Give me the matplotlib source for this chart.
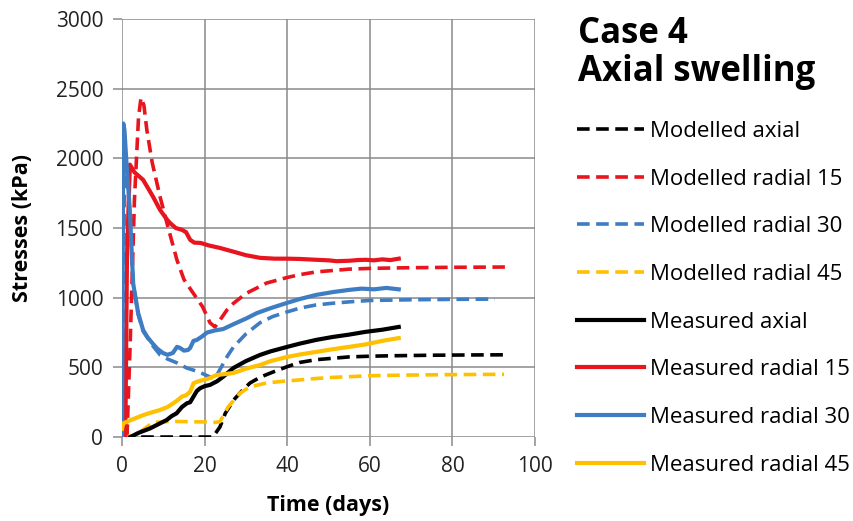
import matplotlib.pyplot as plt

# Modelled series (dashed)
mod_axial_t = [0, 5, 10, 15, 20, 22, 23.7, 25, 27, 29, 31, 33.5, 36.6, 40, 43, 47, 51, 55, 60, 65, 70, 75, 80, 85, 92.5]
mod_axial_s = [0, 0, 0, 0, 0, 0, 72, 170, 265, 330, 388, 430, 467, 505, 535, 555, 565, 575, 580, 583, 585, 587, 588, 589, 590]

mod_r15_t = [1.2, 2, 3, 4, 4.6, 5.3, 6, 7.3, 9.2, 11.1, 13.3, 15, 17.2, 19.5, 21.3, 22.5, 23.5, 25.4, 27, 30, 35, 40, 43, 47, 51, 55, 60, 65, 70, 80, 92.7]
mod_r15_s = [0, 700, 1700, 2300, 2435, 2380, 2205, 1970, 1725, 1510, 1270, 1130, 1034, 935, 820, 790, 830, 912, 960, 1030, 1105, 1145, 1165, 1185, 1195, 1205, 1210, 1213, 1215, 1218, 1220]

mod_r30_t = [0.3, 0.6, 1, 1.5, 1.9, 2.7, 3.9, 5.1, 7.3, 9.2, 11, 13.3, 15.7, 17.2, 19.5, 21.3, 22.5, 24, 25.5, 27, 30, 33.4, 36.5, 40, 43, 47, 51, 55, 60, 70, 80, 90.3]
mod_r30_s = [0, 2100, 1950, 1780, 1600, 1100, 880, 760, 660, 590, 560, 532, 495, 481, 455, 431, 420, 500, 580, 647, 740, 820, 865, 898, 925, 948, 960, 970, 980, 985, 988, 990]

mod_r45_t = [0, 3, 5, 7.5, 12, 16, 20, 22, 23.7, 25.7, 28.6, 31, 35, 39, 43, 47, 51, 55, 60, 70, 80, 92.5]
mod_r45_s = [0, 10, 50, 105, 112, 110, 108, 103, 110, 216, 316, 360, 388, 400, 410, 420, 428, 433, 440, 445, 448, 450]

# Measured series (solid)
mea_axial_t = [2, 4, 6.8, 9, 10.8, 12, 13.2, 14.5, 15.7, 16.5, 17.3, 18.1, 18.9, 20, 21.3, 23, 24.5, 27, 30, 33.4, 36, 40, 43, 47, 51, 55, 59, 63, 67]
mea_axial_s = [0, 30, 62, 95, 122, 150, 170, 215, 242, 250, 290, 330, 350, 365, 374, 400, 433, 496, 545, 589, 615, 647, 670, 697, 718, 735, 755, 770, 790]

mea_r15_t = [0.8, 1.2, 1.9, 3, 5.1, 7.5, 9.2, 10.9, 11.6, 13, 14.5, 15.5, 16.5, 17.5, 19, 21, 23.7, 27, 30, 33.4, 37, 40, 43, 47, 50, 52, 55, 57, 59, 61, 63, 65, 67]
mea_r15_s = [0, 1300, 1955, 1900, 1846, 1725, 1630, 1560, 1537, 1500, 1487, 1470, 1415, 1395, 1393, 1375, 1357, 1330, 1305, 1286, 1280, 1280, 1278, 1272, 1268, 1262, 1265, 1270, 1272, 1268, 1275, 1270, 1280]

mea_r30_t = [0, 0.3, 0.6, 1, 1.5, 1.9, 2.7, 3.9, 5.1, 6.2, 7.3, 8.5, 9.9, 11, 12.3, 13.3, 14, 15, 16, 16.5, 17.3, 18.1, 19.3, 20.6, 22.5, 24.5, 27, 30, 32.7, 36, 40, 43, 47, 51, 55, 58, 61, 64, 67]
mea_r30_s = [0, 2250, 2200, 2000, 1800, 1610, 1100, 890, 768, 715, 675, 635, 603, 590, 603, 647, 640, 620, 625, 640, 690, 697, 720, 750, 765, 775, 810, 850, 890, 925, 963, 990, 1020, 1040, 1056, 1065, 1060, 1070, 1060]

mea_r45_t = [0, 0.3, 2, 5.2, 7, 9.2, 11, 12.4, 13.5, 14.5, 15.5, 16.5, 17.3, 18.5, 19.7, 21, 22.9, 25, 27, 30, 33.4, 36, 40, 43, 47, 51, 55, 59, 63, 67]
mea_r45_s = [60, 98, 120, 158, 175, 194, 215, 242, 265, 290, 300, 325, 386, 400, 410, 420, 445, 452, 460, 490, 517, 545, 575, 592, 611, 630, 647, 665, 690, 710]

RED = '#E8141E'
BLUE = '#3E7CC3'
YEL = '#FFC000'
BLK = '#000000'

plt.rcParams['font.family'] = ['Open Sans', 'DejaVu Sans']

fig = plt.figure(figsize=(8.54, 5.21), dpi=100)
ax = fig.add_axes([0.1429, 0.1612, 0.4836, 0.8023])

dash = (3.5, 1.8)
lwd = 2.6
lws = 3.0
ax.plot(mod_axial_t, mod_axial_s, color=BLK, lw=lwd, dashes=dash, label='Modelled axial')
ax.plot(mod_r15_t, mod_r15_s, color=RED, lw=lwd, dashes=dash, label='Modelled radial 15')
ax.plot(mod_r30_t, mod_r30_s, color=BLUE, lw=lwd, dashes=dash, label='Modelled radial 30')
ax.plot(mod_r45_t, mod_r45_s, color=YEL, lw=lwd, dashes=dash, label='Modelled radial 45')
ax.plot(mea_axial_t, mea_axial_s, color=BLK, lw=lws, label='Measured axial')
ax.plot(mea_r15_t, mea_r15_s, color=RED, lw=lws, label='Measured radial 15')
ax.plot(mea_r30_t, mea_r30_s, color=BLUE, lw=lws, label='Measured radial 30')
ax.plot(mea_r45_t, mea_r45_s, color=YEL, lw=lws, label='Measured radial 45')

ax.set_xlim(0, 100)
ax.set_ylim(0, 3000)
ax.set_xticks(range(0, 101, 20))
ax.set_yticks(range(0, 3001, 500))
ax.grid(True, color='#8a8a8a', lw=1.1)
ax.set_axisbelow(True)
for s in ax.spines.values():
    s.set_visible(False)
ax.tick_params(direction='out', length=6.5, width=1.1, color='#8a8a8a',
               labelsize=15, labelcolor='#222222', pad=7)
ax.set_xlabel('Time (days)', fontsize=15.5, fontweight='bold', labelpad=13)
ax.set_ylabel('Stresses (kPa)', fontsize=15.5, fontweight='bold', labelpad=16)

fig.text(0.677, 0.970, 'Case 4', fontsize=25, fontweight='bold', va='top')
fig.text(0.677, 0.897, 'Axial swelling', fontsize=25, fontweight='bold', va='top')

fig.legend(loc='upper left', bbox_to_anchor=(0.676, 0.768), frameon=False,
           fontsize=16, handlelength=3.0, handletextpad=0.25, labelspacing=1.2,
           borderaxespad=0, borderpad=0)

plt.savefig('out.png', dpi=100)
